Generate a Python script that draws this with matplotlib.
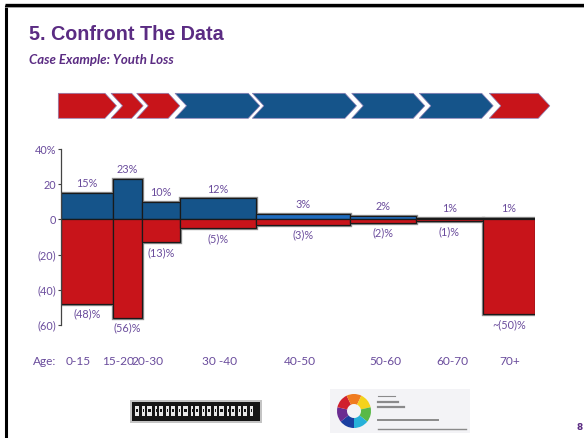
import numpy as np
import matplotlib.pyplot as plt
from matplotlib.patches import Polygon, Rectangle, Wedge

# ================= DATA =================
age_groups = ["0-15", "15-20", "20-30", "30 -40", "40-50", "50-60", "60-70", "70+"]
group_width = [51.7, 29.0, 38.3, 75.7, 94.3, 66.0, 66.7, 52.3]
gain = [15, 23, 10, 12, 3, 2, 1, 1]
loss = [-48, -56, -13, -5, -3, -2, -1, -54]
gain_labels = ["15%", "23%", "10%", "12%", "3%", "2%", "1%", "1%"]
loss_labels = ["(48)%", "(56)%", "(13)%", "(5)%", "(3)%", "(2)%", "(1)%", "~(50)%"]
y_ticks = [40, 20, 0, -20, -40, -60]
y_tick_labels = ["40%", "20", "0", "(20)", "(40)", "(60)"]

# ================= STYLE =================
PURPLE = "#5b2c83"
LABEL = "#6a4c9c"
BLUE = "#15548a"
LIGHT_BLUE = "#1f6dbf"
RED = "#c8141a"
gain_colors = [BLUE, BLUE, BLUE, BLUE, LIGHT_BLUE, LIGHT_BLUE, BLUE, "#3b4550"]
stage_colors = [RED, RED, RED, BLUE, BLUE, BLUE, BLUE, RED]

# chevron banner, pixel layout (left, right of the top edge)
chevrons = [(58.3, 105), (111, 131.7), (136.7, 168.3), (175, 248.3),
            (252.3, 345), (351.7, 413.3), (419.3, 481.7), (489.3, 538.3)]
chev_top, chev_bot, chev_depth = 93.3, 118.3, 11.5

# age label centres, pixels
age_x = [78, 118, 147, 220, 300, 385, 452, 510]

fig = plt.figure(figsize=(5.84, 4.38), dpi=100)

# ================= BACKGROUND / DECORATION LAYER =================
bg = fig.add_axes([0, 0, 1, 1])
bg.set_xlim(0, 584)
bg.set_ylim(438, 0)
bg.axis("off")

# slide frame (top and left)
bg.plot([6.3, 6.3], [4.5, 438], color="black", lw=2.2, solid_capstyle="butt")
bg.plot([5.2, 584], [4.6, 4.6], color="black", lw=2.4, solid_capstyle="butt")
bg.plot([5.2, 584], [6.8, 6.8], color="#999999", lw=0.6)

bg.text(29, 34, "5. Confront The Data", color=PURPLE, fontsize=14.2,
        fontweight="bold", family="Liberation Sans", va="center", ha="left")
bg.text(29, 60.5, "Case Example: Youth Loss", color=PURPLE, fontsize=9.5,
        fontweight="bold", style="italic", family="Lato", va="center", ha="left")

mid = (chev_top + chev_bot) / 2
for i, ((l, r), c) in enumerate(zip(chevrons, stage_colors)):
    pts = [(l, chev_top), (r, chev_top), (r + chev_depth, mid),
           (r, chev_bot), (l, chev_bot)]
    if i > 0:
        pts.append((l + chev_depth, mid))
    bg.add_patch(Polygon(pts, closed=True, facecolor=c,
                         edgecolor="#8c7fb5", lw=0.5))

# age row
bg.text(33, 361.5, "Age:", color=LABEL, fontsize=8.6, family="Lato",
        va="center", ha="left")
for x, a in zip(age_x, age_groups):
    bg.text(x, 361.5, a, color=LABEL, fontsize=8.6, family="Lato",
            va="center", ha="center")

# logo 1: dark banner
bg.add_patch(Rectangle((130, 400), 132, 23, facecolor="#c4c4c4", edgecolor="none"))
bg.add_patch(Rectangle((132, 402), 128, 19, facecolor="#151515", edgecolor="none"))
xs = 135
k = 0
while xs < 255:
    w = [4, 3, 5, 2, 4, 3][k % 6]
    bg.add_patch(Rectangle((xs, 406), w, 10, facecolor="#e8e8e8",
                           edgecolor="none"))
    bg.add_patch(Rectangle((xs + 1, 409), max(w - 2, 1), 3, facecolor="#151515",
                           edgecolor="none"))
    xs += w + 2.5
    k += 1

# logo 2: colour ring + grey text lines
bg.add_patch(Rectangle((330, 389), 140, 44, facecolor="#f3f3f6", edgecolor="none"))
ring = ["#1b3fa0", "#6a2c91", "#d0202e", "#f07b1f", "#f5d21c", "#59b947", "#27b1d9"]
for j, rc in enumerate(ring):
    bg.add_patch(Wedge((354, 411), 17, j * 360 / 7 + 90, (j + 1) * 360 / 7 + 90,
                       width=10, facecolor=rc, edgecolor="none"))
for yy, x0, x1, lw in [(396, 378, 395, 0.8), (401.5, 378, 398, 1.6),
                       (407, 378, 404, 1.6), (420, 378, 438, 1.4),
                       (429, 378, 466, 1.0)]:
    bg.plot([x0, x1], [yy, yy], color="#707070", lw=lw, alpha=0.8)

bg.text(580, 428, "8", color=PURPLE, fontsize=6.5, fontweight="bold",
        ha="center", va="center")

# ================= CHART =================
ax = fig.add_axes([61 / 584, 1 - 325 / 438, 474 / 584, 176 / 438])
ax.patch.set_alpha(0)

widths = np.array(group_width)
lefts = np.concatenate([[0], np.cumsum(widths)[:-1]])
centers = lefts + widths / 2

# soft grey halo behind the outlines
ax.bar(lefts, gain, widths, align="edge", color="none", edgecolor="#8f8f8f",
       lw=2.4, zorder=1)
ax.bar(lefts, loss, widths, align="edge", color="none", edgecolor="#8f8f8f",
       lw=2.4, zorder=1)
ax.bar(lefts, gain, widths, align="edge", color=gain_colors,
       edgecolor="#1a1a1a", lw=0.9, zorder=2)
ax.bar(lefts, loss, widths, align="edge", color=RED,
       edgecolor="#1a1a1a", lw=0.9, zorder=2)

for cx, g, gl in zip(centers, gain, gain_labels):
    ax.annotate(gl, (cx, g), xytext=(0, 6.6), textcoords="offset points",
                ha="center", va="center", color=LABEL, fontsize=7.8, family="Lato")
for cx, v, ll in zip(centers, loss, loss_labels):
    ax.annotate(ll, (cx, v), xytext=(0, -7.3), textcoords="offset points",
                ha="center", va="center", color=LABEL, fontsize=7.8, family="Lato")

ax.set_xlim(0, widths.sum())
ax.set_ylim(-60, 40)
ax.set_yticks(y_ticks)
ax.set_yticklabels(y_tick_labels, color=LABEL, fontsize=7.8, family="Lato")
ax.tick_params(axis="y", length=2.2, width=0.8, color="#444444", pad=1.2)
ax.set_xticks([])
for s in ["top", "right", "bottom"]:
    ax.spines[s].set_visible(False)
ax.spines["left"].set_color("#444444")
ax.spines["left"].set_linewidth(0.9)

fig.savefig("out.png", dpi=100)
